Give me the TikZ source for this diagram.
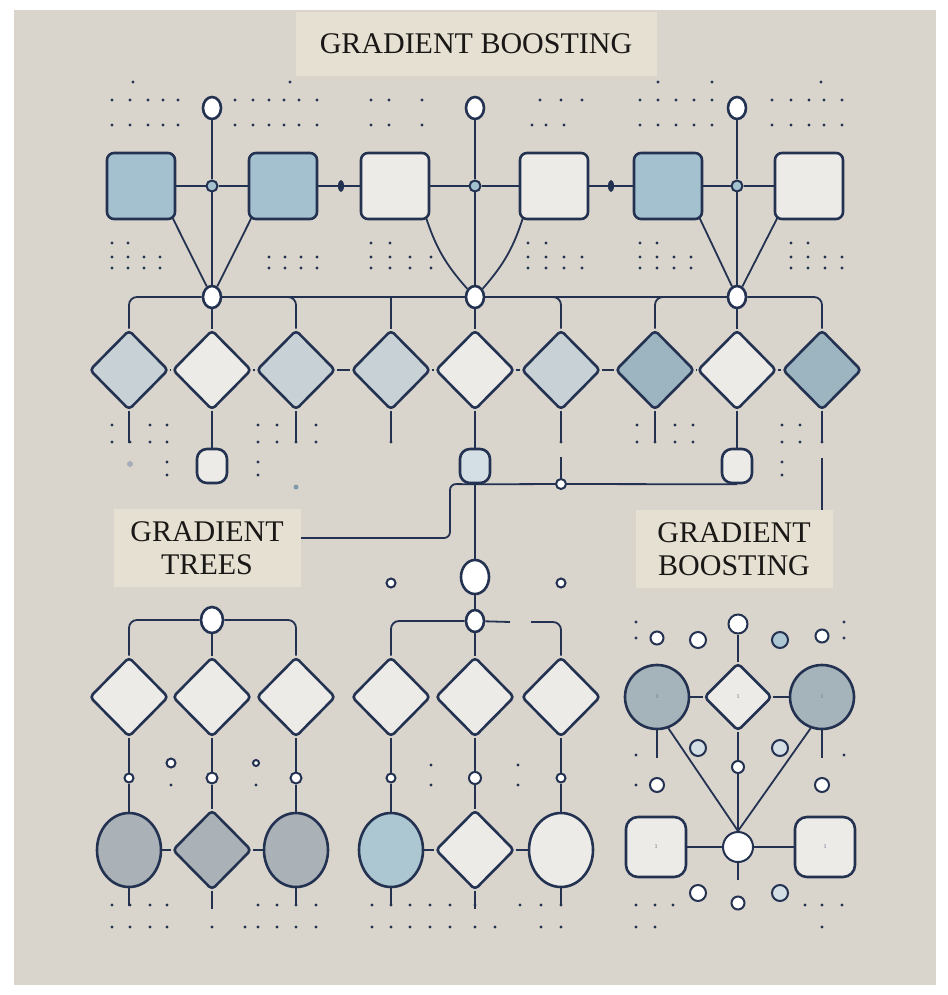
\documentclass[tikz,border=0pt]{standalone}
\usepackage{fontspec}
\setmainfont{Liberation Serif}
\usetikzlibrary{shapes.geometric, positioning, calc}
\usepackage{xcolor}
\definecolor{ink}{RGB}{36,50,82}
\definecolor{paper}{RGB}{217,213,205}
\definecolor{bannerfill}{RGB}{230,224,210}
\definecolor{textink}{RGB}{26,24,22}
\definecolor{blueA}{RGB}{163,193,206}
\definecolor{chalk}{RGB}{236,235,231}
\definecolor{greyA}{RGB}{200,209,214}
\definecolor{steel}{RGB}{157,180,193}
\definecolor{slate}{RGB}{170,178,184}
\definecolor{mist}{RGB}{172,198,210}
\definecolor{haze}{RGB}{165,179,187}
\definecolor{pale}{RGB}{211,223,228}
\pgfdeclarelayer{paperlayer}
\pgfdeclarelayer{wirelayer}
\pgfsetlayers{paperlayer,wirelayer,main}
\tikzset{
  wire/.style   = {line width=1.8pt, draw=ink},
  bus/.style    = {wire, rounded corners=8pt},
  tile/.style   = {draw=ink, line width=2.6pt, rounded corners=7pt, inner sep=0pt,
                   minimum width=68pt, minimum height=66pt},
  gem/.style    = {diamond, draw=ink, line width=2.6pt, rounded corners=4pt, inner sep=0pt,
                   minimum width=79pt, minimum height=80pt},
  blob/.style   = {ellipse, draw=ink, line width=2.6pt, inner sep=0pt,
                   minimum width=64pt, minimum height=74pt},
  pod/.style    = {ellipse, draw=ink, line width=2.6pt, fill=white, inner sep=0pt,
                   minimum width=18pt, minimum height=22pt},
  pill/.style   = {draw=ink, line width=2.6pt, rounded corners=10pt, inner sep=0pt,
                   minimum width=30pt, minimum height=34pt},
  knot/.style   = {circle, draw=ink, line width=2pt, fill=blueA, inner sep=0pt, minimum size=11pt},
  bead/.style   = {ellipse, fill=ink, inner sep=0pt, minimum width=6pt, minimum height=12pt},
  ring/.style   = {circle, draw=ink, line width=2pt, fill=white, inner sep=0pt, minimum size=10pt},
  banner/.style = {fill=bannerfill, align=center, text=textink, inner sep=0pt,
                   font=\fontsize{30}{33}\selectfont},
  tinytext/.style = {font=\fontsize{6}{6}\selectfont, text=ink!70}
}
\newcommand\specks[2]{\foreach \sx in {#2} {\fill[ink] (\sx,#1) circle[radius=1.6pt];}}

\begin{document}
\begin{tikzpicture}[x=1pt, y=-1pt]
\useasboundingbox (0,0) rectangle (947,995);
\begin{pgfonlayer}{paperlayer}
  \fill[white] (0,0) rectangle (947,995);
  \fill[paper] (14,10) rectangle (936,985);
\end{pgfonlayer}

% labels
\node[banner, minimum width=361pt, minimum height=64pt] at (476,44)  (title) {GRADIENT BOOSTING};
\node[banner, minimum width=187pt, minimum height=78pt] at (207,548) (gt)    {GRADIENT\\TREES};
\node[banner, minimum width=197pt, minimum height=78pt] at (734,549) (gb)    {GRADIENT\\BOOSTING};

% top row of boxes
\node[tile, fill=blueA] at (141,186) (b1) {};
\node[tile, fill=blueA] at (283,186) (b2) {};
\node[tile, fill=chalk] at (395,186) (b3) {};
\node[tile, fill=chalk] at (554,186) (b4) {};
\node[tile, fill=blueA] at (668,186) (b5) {};
\node[tile, fill=chalk] at (809,186) (b6) {};
\node[pod]  at (212,108) (t1) {};
\node[pod]  at (475,108) (t2) {};
\node[pod]  at (737,108) (t3) {};
\node[knot] at (212,186) (k1) {};
\node[knot] at (475,186) (k2) {};
\node[knot] at (737,186) (k3) {};
\node[bead] at (341,186) (m1) {};
\node[bead] at (611,186) (m2) {};
\node[pod]  at (212,297) (j1) {};
\node[pod]  at (475,297) (j2) {};
\node[pod]  at (737,297) (j3) {};

% row of diamonds
\node[gem, fill=greyA] at (129,370) (d1) {};
\node[gem, fill=chalk] at (212,370) (d2) {};
\node[gem, fill=greyA] at (296,370) (d3) {};
\node[gem, fill=greyA] at (391,370) (d4) {};
\node[gem, fill=chalk] at (475,370) (d5) {};
\node[gem, fill=greyA] at (561,370) (d6) {};
\node[gem, fill=steel] at (655,370) (d7) {};
\node[gem, fill=chalk] at (737,370) (d8) {};
\node[gem, fill=steel] at (822,370) (d9) {};
\node[pill, fill=chalk] at (212,466) (p1) {};
\node[pill, fill=pale]  at (475,466) (p2) {};
\node[pill, fill=chalk] at (737,466) (p3) {};
\node[ring] at (561,484) (s1) {};
\node[pod, minimum width=28pt, minimum height=34pt] at (475,577) (c) {};
\node[ring, minimum size=9pt] at (391,583) (o1) {};
\node[ring, minimum size=9pt] at (561,583) (o2) {};

% left tree
\node[pod, minimum width=22pt, minimum height=26pt] at (212,620) (t4) {};
\node[gem, fill=chalk] at (129,697) (bl1) {};
\node[gem, fill=chalk] at (212,697) (bl2) {};
\node[gem, fill=chalk] at (296,697) (bl3) {};
\node[ring, minimum size=9pt]  at (129,778) (r1) {};
\node[ring, minimum size=11pt] at (212,778) (r2) {};
\node[ring, minimum size=11pt] at (296,778) (r3) {};
\node[ring, minimum size=9pt]  at (171,763) (r4) {};
\node[ring, minimum size=6pt]  at (256,763) (r5) {};
\node[blob, fill=slate] at (129,850) (bb1) {};
\node[gem,  fill=slate] at (212,850) (bb2) {};
\node[blob, fill=slate] at (296,850) (bb3) {};

% middle tree
\node[pod] at (475,621) (t5) {};
\node[gem, fill=chalk] at (391,697) (bm1) {};
\node[gem, fill=chalk] at (475,697) (bm2) {};
\node[gem, fill=chalk] at (561,697) (bm3) {};
\node[ring, minimum size=9pt]  at (391,778) (r6) {};
\node[ring, minimum size=12pt] at (475,778) (r7) {};
\node[ring, minimum size=9pt]  at (561,778) (r8) {};
\node[blob, fill=mist]  at (391,850) (bn1) {};
\node[gem,  fill=chalk] at (475,850) (bn2) {};
\node[blob, fill=chalk] at (561,850) (bn3) {};

% right cluster
\node[ring, minimum size=19pt] at (738,624) (q0) {};
\node[circle, draw=ink, line width=2.6pt, fill=haze, minimum size=64pt, tinytext] at (657,697) (ql) {1};
\node[gem, fill=chalk, minimum width=68pt, minimum height=68pt, tinytext]        at (738,697) (qd) {1};
\node[circle, draw=ink, line width=2.6pt, fill=haze, minimum size=64pt, tinytext] at (822,697) (qr) {1};
\node[ring, minimum size=12pt] at (738,767) (qs) {};
\node[tile, fill=chalk, minimum width=60pt, minimum height=60pt, rounded corners=12pt, tinytext] at (656,847) (qsl) {1};
\node[tile, fill=chalk, minimum width=60pt, minimum height=60pt, rounded corners=12pt, tinytext] at (825,847) (qsr) {1};
\node[ring, minimum size=30pt] at (738,847) (qc) {};
\node[ring, minimum size=13pt] at (657,638) (u1) {};
\node[ring, minimum size=16pt] at (698,640) (u2) {};
\node[ring, minimum size=16pt, fill=mist] at (780,640) (u3) {};
\node[ring, minimum size=13pt] at (822,636) (u4) {};
\node[ring, minimum size=16pt, fill=pale] at (698,748) (u5) {};
\node[ring, minimum size=16pt, fill=pale] at (780,748) (u6) {};
\node[ring, minimum size=14pt] at (657,785) (u7) {};
\node[ring, minimum size=14pt] at (822,785) (u8) {};
\node[ring, minimum size=16pt] at (698,893) (u9) {};
\node[ring, minimum size=13pt] at (738,903) (u10) {};
\node[ring, minimum size=16pt, fill=pale] at (780,893) (u11) {};

% free ends
\foreach \n in {d1,d3,d4,d6,d7,d9} {\coordinate (\n-tip) at ([yshift=-32pt]\n.south);}
\foreach \n in {bb1,bb2,bb3,bn1,bn2,bn3} {\coordinate (\n-tip) at ([yshift=-18pt]\n.south);}
\coordinate (ql-tip) at (657,758);
\coordinate (qr-tip) at (822,758);
\coordinate (qc-tip) at (738,880);
\coordinate (elbow)  at (450,484);
\coordinate (s1-tap) at (561,457);
\coordinate (gb-tap) at (822,458);
\coordinate (gapL)   at (510,622);
\coordinate (gapR)   at (531,622);

\begin{pgfonlayer}{wirelayer}
% top
\draw[wire] (t1) -- (k1) -- (j1) -- (d2) -- (p1);
\draw[wire] (t2) -- (k2) -- (j2) -- (d5) -- (p2) -- (c) -- (t5) -- (bm2);
\draw[wire] (t3) -- (k3) -- (j3) -- (d8) -- (p3);
\draw[wire] (b1) -- (k1) -- (b2) -- (m1) -- (b3) -- (k2) -- (b4) -- (m2) -- (b5) -- (k3) -- (b6);
\draw[wire] ([shift={(-5pt,5pt)}]b1.south east) -- (j1);
\draw[wire] ([shift={(5pt,5pt)}]b2.south west) -- (j1);
\draw[wire] ([shift={(-5pt,5pt)}]b3.south east) to[bend right=12] (j2);
\draw[wire] ([shift={(5pt,5pt)}]b4.south west) to[bend left=12] (j2);
\draw[wire] ([shift={(-5pt,5pt)}]b5.south east) -- (j3);
\draw[wire] ([shift={(5pt,5pt)}]b6.south west) -- (j3);
% bus over the diamonds
\draw[wire] (j1) -- (j2) -- (j3);
\draw[bus] (j1) -| (d1);
\draw[bus] (j1) -| (d3);
\draw[wire] (d4) -- (d4 |- j2);
\draw[bus] (j2) -| (d6);
\draw[bus] (j3) -| (d7);
\draw[bus] (j3) -| (d9);
\draw[wire] (d1) -- (d2) -- (d3) -- (d4) -- (d5) -- (d6) -- (d7) -- (d8) -- (d9);
\foreach \n in {d1,d3,d4,d6,d7,d9} {\draw[wire] (\n.south) -- (\n-tip);}
% middle links
\draw[wire, rounded corners=6pt] (p2.south) -- (elbow) |- ([yshift=10pt]gt.east);
\draw[wire] (p2.south) -- (s1) -- (p3.south);
\draw[wire] (s1-tap) -- (s1);
\draw[wire] (gb-tap) -- (gb-tap |- gb.north);
% left tree
\draw[bus] (t4) -| (bl1);
\draw[bus] (t4) -| (bl3);
\draw[wire] (t4) -- (bl2);
\foreach \i in {1,2,3} {\draw[wire] (bl\i) -- (r\i) -- (bb\i);}
\draw[wire] (bb1) -- (bb2) -- (bb3);
% middle tree
\draw[bus] (t5) -| (bm1);
\draw[wire] (t5) -- (gapL);
\draw[bus] (gapR) -| (bm3);
\draw[wire] (bm1) -- (r6) -- (bn1);
\draw[wire] (bm2) -- (r7) -- (bn2);
\draw[wire] (bm3) -- (r8) -- (bn3);
\draw[wire] (bn1) -- (bn2) -- (bn3);
\foreach \n in {bb1,bb2,bb3,bn1,bn2,bn3} {\draw[wire] (\n.south) -- (\n-tip);}
% right cluster
\draw[wire] (q0) -- (qd);
\draw[wire] (ql) -- (qd) -- (qr);
\draw[wire] (ql.south) -- (ql-tip);
\draw[wire] (qr.south) -- (qr-tip);
\draw[wire] (ql.-70) -- (qc.north);
\draw[wire] (qr.-110) -- (qc.north);
\draw[wire] (qd) -- (qs) -- (qc);
\draw[wire] (qsl) -- (qc) -- (qsr);
\draw[wire] (qc.south) -- (qc-tip);
\end{pgfonlayer}

% specks
\specks{82}{133,290,658,712,821}
\specks{100}{112,130,148,163,178,235,253,269,284,299,317,371,389,422,540,561,582,640,658,676,694,712,772,791,809,824,842}
\specks{125}{112,130,148,163,178,235,253,269,284,299,317,371,389,422,532,546,564,640,658,676,694,712,772,791,809,824,842}
\specks{243}{112,128,371,390,528,546,640,657,791,808}
\specks{257}{112,128,144,160,269,285,301,317,371,390,410,431,528,546,564,582,640,657,674,691,791,808,825,842}
\specks{268}{112,128,144,160,269,285,301,317,371,390,410,431,528,546,564,582,640,657,674,691,791,808,825,842}
\specks{425}{112,150,167,258,277,316,637,675,693,782,800}
\specks{442}{112,130,150,167,258,277,296,316,391,561,637,655,675,693,782,800,822}
\specks{462}{167,258,782}
\specks{475}{167,258,782}
\specks{785}{171,256,431,518}
\specks{765}{431,518}
\specks{905}{112,130,150,167,258,277,296,316,372,391,410,430,450,475,520,541,561,636,655,673,805,822,842}
\specks{927}{112,130,150,167,212,245,258,277,296,316,372,391,410,430,450,475,495,541,561,636,655,822}
\specks{622}{636,844}
\specks{638}{636,844}
\specks{755}{636,844}
\specks{785}{636}
\fill[ink!40] (130,464) circle[radius=3pt];
\fill[mist!70!ink] (296,487) circle[radius=2.5pt];
\end{tikzpicture}
\end{document}
